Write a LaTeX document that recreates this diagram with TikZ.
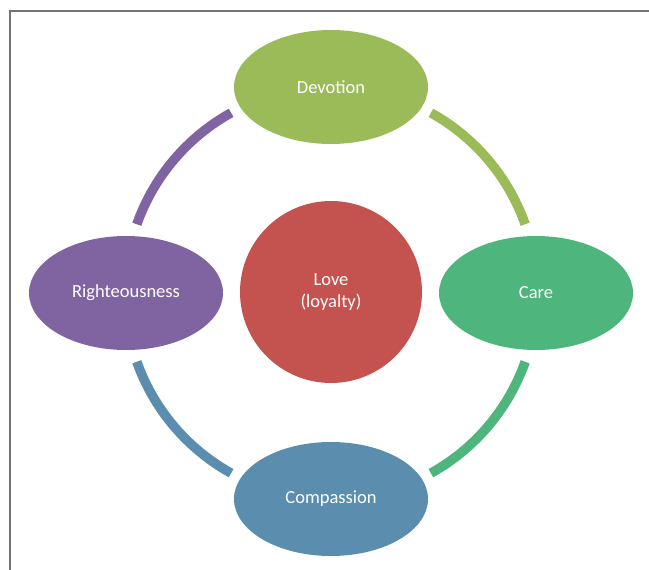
\documentclass[tikz,border=0pt]{standalone}
\usepackage{fontspec}
\setmainfont{Carlito}
\usepackage{xcolor}
\usepackage{tikz}
\usetikzlibrary{shapes.geometric}

\definecolor{devgreen}{HTML}{9BBB59}
\definecolor{caregreen}{HTML}{4EB57D}
\definecolor{compblue}{HTML}{5B8EAE}
\definecolor{rightpurple}{HTML}{8064A2}
\definecolor{lovered}{HTML}{C4534F}

\begin{document}
\begin{tikzpicture}[x=1pt, y=-1pt,
  petal/.style={ellipse, minimum width=194pt, minimum height=114pt, inner sep=0pt,
    text=white, font=\fontsize{18.5}{22}\selectfont},
  ring/.style={line width=9.5pt}]
  \useasboundingbox (0,0) rectangle (649,570);
  \draw [black!55, line width=2pt] (9.5,570) -- (9.5,10.5) -- (649,10.5);
  \coordinate (O) at (331,293);
  % the ring between the four petals
  \draw [ring, devgreen] ([shift={(-61:206)}]O) arc [start angle=-61, end angle=-19.5, radius=206];
  \draw [ring, caregreen] ([shift={(19.5:206)}]O) arc [start angle=19.5, end angle=61, radius=206];
  \draw [ring, compblue] ([shift={(119:206)}]O) arc [start angle=119, end angle=160.5, radius=206];
  \draw [ring, rightpurple] ([shift={(199.5:206)}]O) arc [start angle=199.5, end angle=241, radius=206];
  \node [petal, fill=devgreen] (T) at (331,87) {Devotion};
  \node [petal, fill=caregreen] (R) at (536,293) {Care};
  \node [petal, fill=compblue] (B) at (331,499) {Compassion};
  \node [petal, fill=rightpurple] (L) at (126,293) {Righteousness};
  \node [circle, fill=lovered, minimum size=182pt, inner sep=0pt, text=white, align=center,
    font=\fontsize{18.5}{22}\selectfont] (M) at (331,292) {Love\\(loyalty)};
\end{tikzpicture}
\end{document}
